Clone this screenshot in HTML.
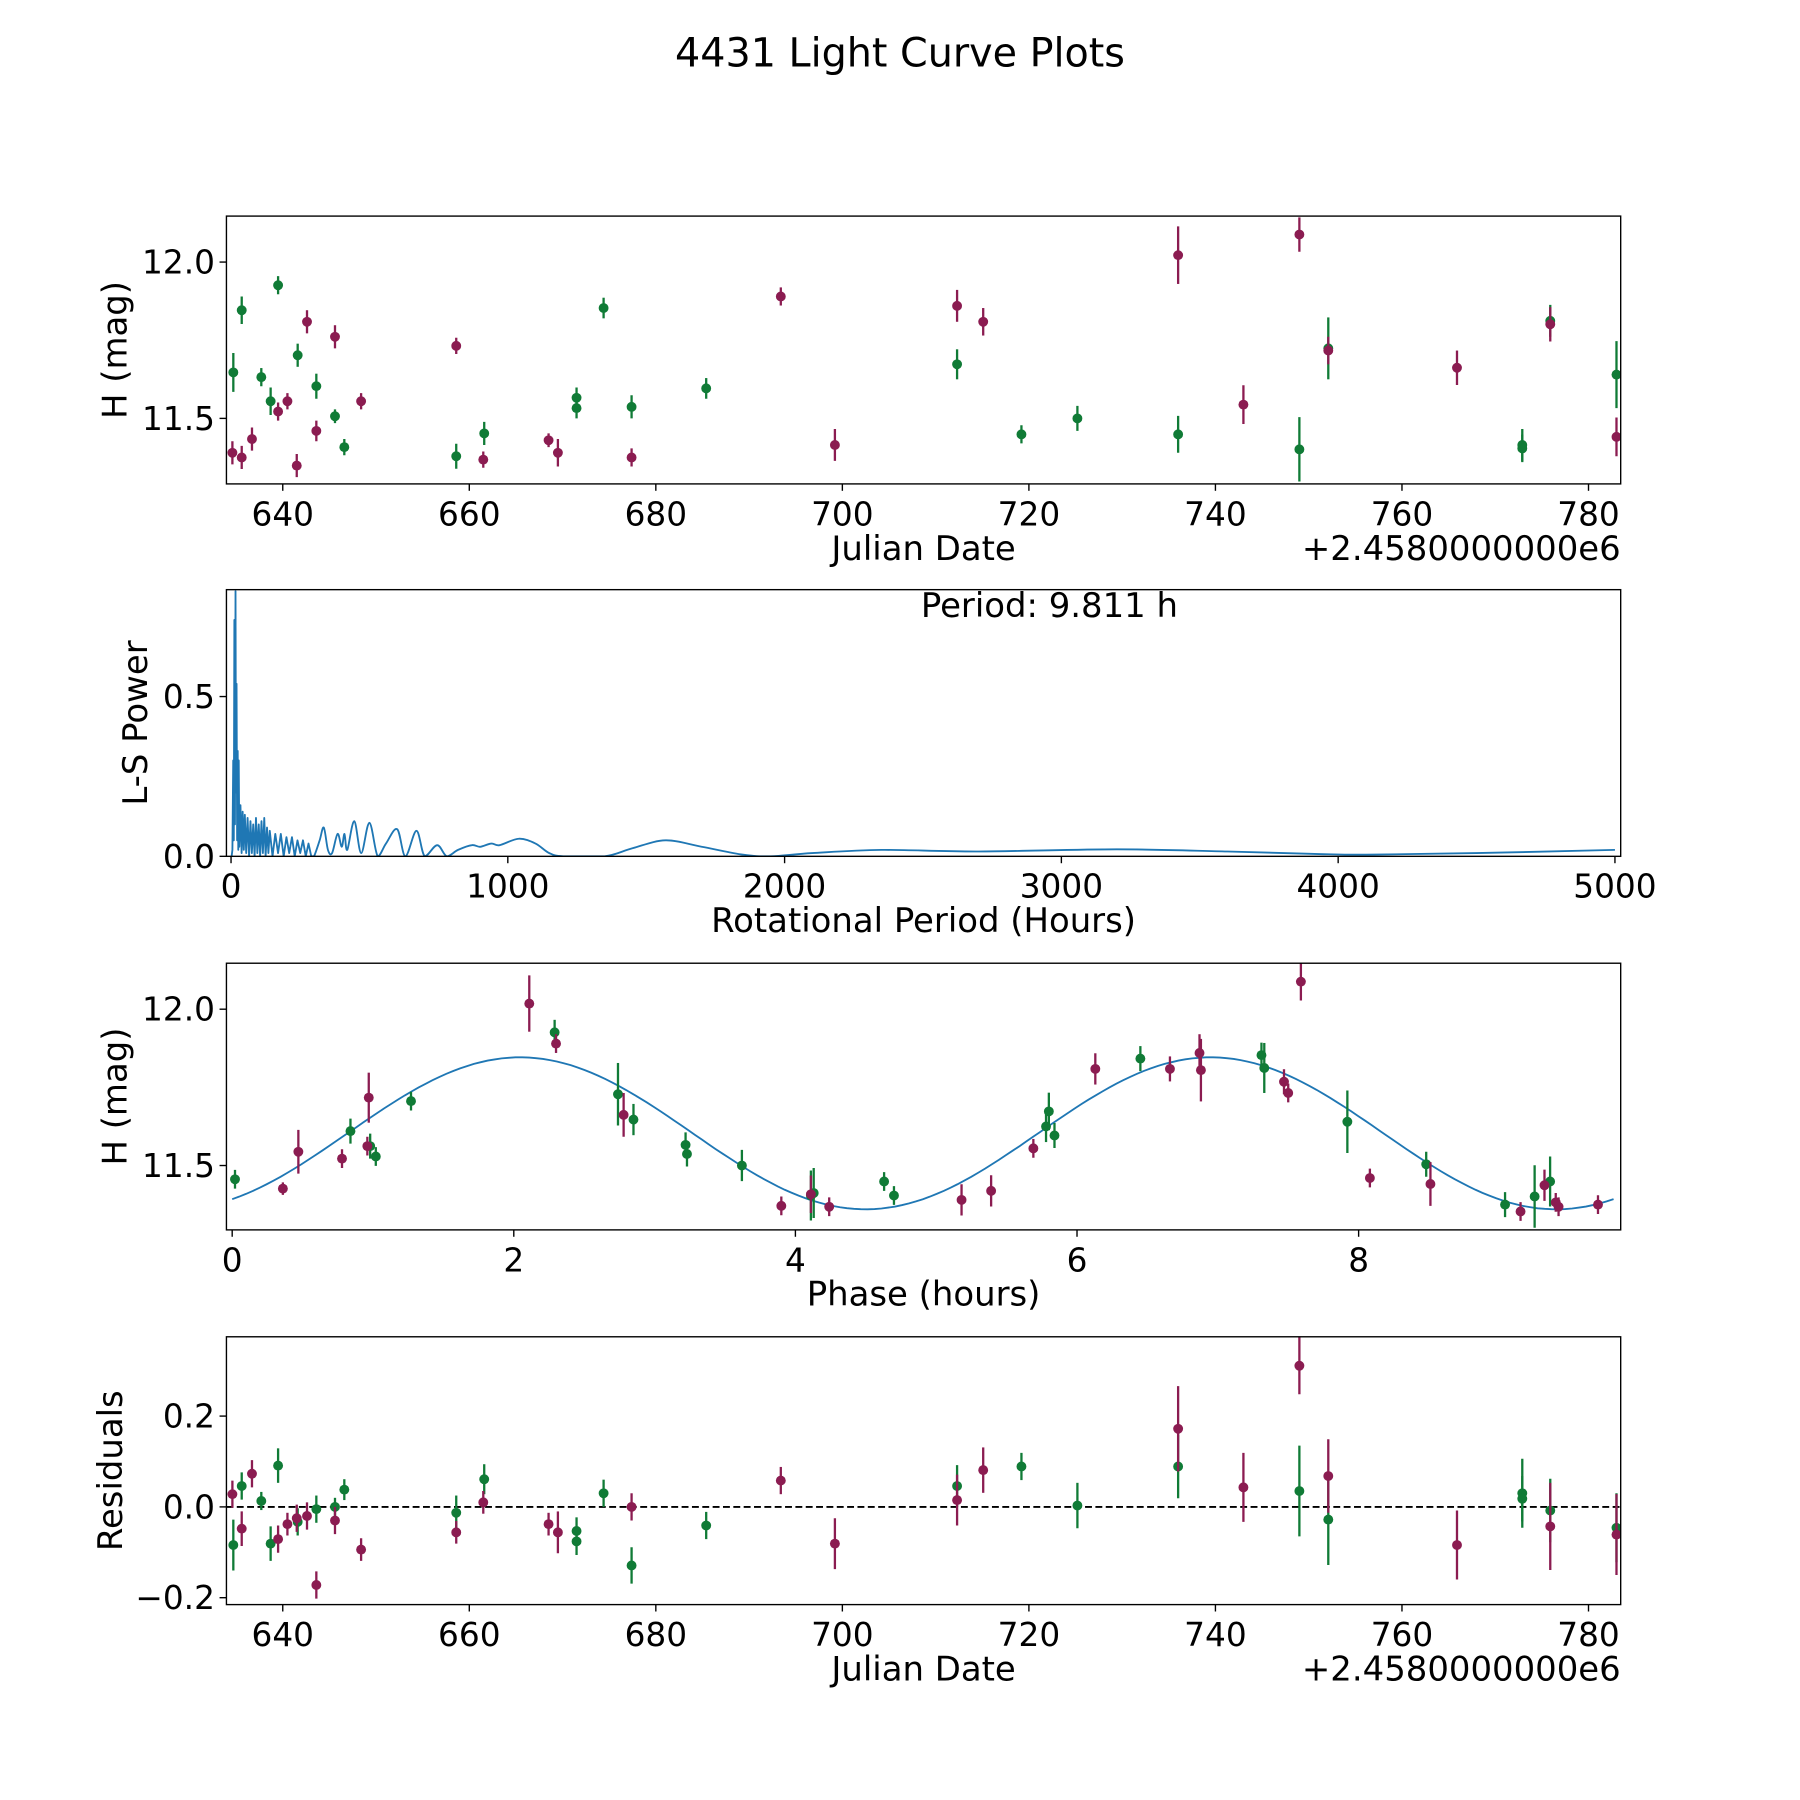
<!DOCTYPE html>
<html><head><meta charset="utf-8"><style>
html,body{margin:0;padding:0;background:#fff}
svg{display:block;font-family:"DejaVu Sans","Liberation Sans",sans-serif}
</style></head><body>
<svg id="fig" xmlns="http://www.w3.org/2000/svg" width="1800" height="1800" viewBox="0 0 1566 1566">
<rect width="1566" height="1566" fill="#fff"/>
<text x="783" y="58" font-size="34.5" text-anchor="middle">4431 Light Curve Plots</text>
</svg>
<script>
// ---- Panel 1 data: date (JD-2458000), H mag, error ----
const gDate=[634.7,635.6,637.7,638.7,639.5,641.6,643.6,645.6,646.6,658.6,661.6,671.5,671.5,674.4,677.4,685.4,712.3,719.2,725.2,736.0,749.0,752.1,772.9,772.9,775.9,783.0];
const gMag=[11.647,11.846,11.632,11.555,11.926,11.702,11.603,11.507,11.408,11.379,11.452,11.566,11.533,11.853,11.537,11.596,11.673,11.449,11.5,11.449,11.401,11.724,11.415,11.404,11.812,11.64];
const gErr=[0.062,0.044,0.029,0.044,0.029,0.037,0.040,0.022,0.026,0.040,0.037,0.033,0.033,0.033,0.037,0.033,0.048,0.029,0.040,0.059,0.103,0.099,0.051,0.044,0.051,0.107];
const mDate=[634.6,635.6,636.7,639.5,640.5,641.5,642.6,643.6,645.6,648.4,658.6,661.5,668.5,669.5,677.4,693.4,699.2,712.3,715.1,736.0,743.0,749.0,752.1,765.9,775.9,783.0];
const mMag=[11.39,11.375,11.434,11.522,11.555,11.349,11.809,11.46,11.761,11.555,11.732,11.368,11.43,11.39,11.375,11.89,11.415,11.86,11.809,12.022,11.544,12.088,11.717,11.662,11.801,11.441];
const mErr=[0.037,0.037,0.037,0.029,0.026,0.037,0.037,0.033,0.037,0.026,0.026,0.026,0.022,0.044,0.029,0.029,0.051,0.051,0.044,0.092,0.062,0.055,0.044,0.055,0.055,0.062];
// ---- Panel 2: periodogram ----
const lsPeriod=[2,5,8,10,12,14,16,18,20,22,24,26,28,30,34,38,42,46,50,55,60,65,70,75,80,85,90,95,100,105,110,115,120,125,130,135,140,150,160,170,180,190,200,210,220,230,240,250,260,270,280,290,300,320,335,350,365,385,400,410,420,445,470,500,530,560,600,630,670,700,745,780,820,870,900,940,970,1040,1100,1150,1200,1350,1450,1570,1700,1850,1950,2100,2350,2700,3200,3600,3900,4100,4500,5000];
const lsPower=[0.0,0.02,0.3,0.05,0.74,0.1,0.83,0.2,0.54,0.05,0.33,0.02,0.3,0.03,0.16,0.01,0.14,0.02,0.13,0.01,0.12,0.0,0.11,0.01,0.1,0.0,0.12,0.01,0.1,0.0,0.11,0.01,0.12,0.0,0.09,0.01,0.08,0.0,0.07,0.01,0.07,0.0,0.06,0.01,0.06,0.0,0.05,0.01,0.05,0.0,0.04,0.0,0.0,0.05,0.09,0.02,0.01,0.07,0.03,0.07,0.02,0.11,0.01,0.105,0.0,0.04,0.085,0.0,0.08,0.0,0.035,0.0,0.02,0.035,0.03,0.04,0.035,0.055,0.04,0.01,0.0,0.0,0.025,0.05,0.03,0.005,0.0,0.01,0.02,0.015,0.022,0.015,0.008,0.005,0.01,0.02];
// ---- Panel 3: phased ----
const gPhase=[0.02,0.84,0.98,1.02,1.27,2.29,2.74,2.85,3.22,3.23,3.62,4.11,4.13,4.63,4.70,5.78,5.80,5.84,6.45,7.31,7.33,7.92,8.48,9.04,9.25,9.36];
const gPMag=[11.456,11.61,11.562,11.529,11.706,11.926,11.728,11.647,11.566,11.537,11.5,11.404,11.412,11.449,11.404,11.625,11.673,11.596,11.842,11.853,11.812,11.64,11.504,11.375,11.401,11.449];
const gPErr=[0.03,0.04,0.04,0.03,0.03,0.04,0.1,0.05,0.04,0.04,0.05,0.08,0.08,0.03,0.03,0.05,0.06,0.04,0.04,0.04,0.08,0.1,0.04,0.04,0.1,0.08];
const mPhase=[0.36,0.47,0.78,0.97,0.96,2.11,2.30,2.78,3.90,4.11,4.24,5.18,5.39,5.69,6.13,6.66,6.87,6.88,7.47,7.50,7.59,8.08,8.51,9.15,9.32,9.40,9.42,9.70];
const mPMag=[11.426,11.544,11.522,11.717,11.562,12.018,11.89,11.662,11.371,11.408,11.368,11.39,11.419,11.555,11.809,11.809,11.86,11.805,11.768,11.732,12.088,11.46,11.441,11.353,11.437,11.382,11.368,11.375];
const mPErr=[0.02,0.07,0.03,0.08,0.03,0.09,0.03,0.07,0.03,0.06,0.03,0.05,0.05,0.03,0.05,0.04,0.06,0.1,0.04,0.03,0.06,0.03,0.07,0.03,0.05,0.03,0.03,0.03];
const fitParams=[11.603,0.243,4.905,0.82]; // mean, amplitude, period(h), phase offset
// ---- Panel 4: residuals ----
const gRes=[-0.084,0.046,0.013,-0.081,0.091,-0.033,-0.005,0.0,0.038,-0.013,0.061,-0.053,-0.076,0.03,-0.129,-0.041,0.046,0.089,0.003,0.089,0.035,-0.028,0.03,0.018,-0.008,-0.046];
const gResErr=[0.056,0.03,0.02,0.038,0.038,0.03,0.03,0.02,0.023,0.038,0.033,0.03,0.03,0.03,0.04,0.03,0.046,0.03,0.05,0.07,0.1,0.1,0.076,0.05,0.07,0.076];
const mRes=[0.028,-0.048,0.073,-0.071,-0.038,-0.025,-0.02,-0.172,-0.03,-0.094,-0.056,0.01,-0.038,-0.056,0.0,0.058,-0.081,0.015,0.081,0.172,0.043,0.311,0.068,-0.084,-0.043,-0.061];
const mResErr=[0.03,0.038,0.03,0.03,0.025,0.03,0.03,0.03,0.03,0.025,0.025,0.025,0.025,0.046,0.03,0.03,0.056,0.056,0.05,0.094,0.076,0.063,0.081,0.076,0.096,0.089];
const dateTicks=[640,660,680,700,720,740,760,780];
const magTicks=[11.5,12.0];
const lsXTicks=[0,1000,2000,3000,4000,5000];
const lsYTicks=[0.0,0.5];
const phaseTicks=[0,2,4,6,8];
const resTicks=[-0.2,0.0,0.2];

const NS='http://www.w3.org/2000/svg';
const svg=document.getElementById('fig');
const GREEN='#107b36',MAG='#8b1c51',BLUE='#1f77b4';
const TF=28.5, LF=29.5;
function el(tag,attrs,parent){const e=document.createElementNS(NS,tag);for(const k in attrs)e.setAttribute(k,attrs[k]);(parent||svg).appendChild(e);return e;}
function lin(d0,d1,r0,r1){return v=>r0+(v-d0)*(r1-r0)/(d1-d0);}
const L=197,R=1410;
function panel(name,top,bot,xs,ys,xt,yt,xfmt,yfmt,xlabel,ylabel,ylx,offset){
  const g=el('g',{});
  
  
  const cid='clip-'+name;
  const cp=el('clipPath',{id:cid},g);el('rect',{x:L,y:top,width:R-L,height:bot-top},cp);
  xt.forEach(t=>{const x=xs(t);el('line',{x1:x,x2:x,y1:bot,y2:bot+6,stroke:'#000','stroke-width':1.2},g);
    const tx=el('text',{x:x,y:bot+36,'font-size':TF,'text-anchor':'middle'},g);tx.textContent=xfmt(t);
    });
  yt.forEach(t=>{const y=ys(t);el('line',{x1:L-6,x2:L,y1:y,y2:y,stroke:'#000','stroke-width':1.2},g);
    const tx=el('text',{x:L-10,y:y+10,'font-size':TF,'text-anchor':'end'},g);tx.textContent=yfmt(t);
    });
  const xl=el('text',{x:(L+R)/2,y:bot+66,'font-size':LF,'text-anchor':'middle'},g);xl.textContent=xlabel;
  
  const yl=el('text',{x:0,y:0,'font-size':LF,'text-anchor':'middle',transform:`translate(${ylx},${(top+bot)/2}) rotate(-90)`},g);yl.textContent=ylabel;
  
  if(offset){const o=el('text',{x:R,y:bot+66,'font-size':LF,'text-anchor':'end'},g);o.textContent=offset;
    }
  const plot=el('g',{'clip-path':`url(#${cid})`},g);
  return {g,plot,frame:()=>el('rect',{x:L,y:top,width:R-L,height:bot-top,fill:'none',stroke:'#000','stroke-width':1.2},g)};
}
function errpts(p,xs,ys,X,Y,E,col,nm){
  X.forEach((v,i)=>{const x=xs(v);
    const ln=el('line',{x1:x,x2:x,y1:ys(Y[i]-E[i]),y2:ys(Y[i]+E[i]),stroke:col,'stroke-width':2},p.plot);
    
    const c=el('circle',{cx:x,cy:ys(Y[i]),r:4.3,fill:col},p.plot);
    });
}
const dx=lin(640,780,246,1382);
{const ys=lin(12,11.5,228,364);
 const p=panel('light-curve-panel',188,421,dx,ys,dateTicks,magTicks,t=>String(t),t=>t.toFixed(1),'Julian Date','H (mag)',110,'+2.4580000000e6');
 errpts(p,dx,ys,gDate,gMag,gErr,GREEN,'green-filter');errpts(p,dx,ys,mDate,mMag,mErr,MAG,'magenta-filter');p.frame();}
{const xs=lin(0,5000,201,1405),ys=lin(0,0.5,745,606);
 const p=panel('periodogram-panel',513,745,xs,ys,lsXTicks,lsYTicks,t=>String(t),t=>t.toFixed(1),'Rotational Period (Hours)','L-S Power',128,null);
 const P=lsPeriod.map((v,i)=>[xs(v),ys(lsPower[i])]);
 let d='M'+P[0][0].toFixed(1)+','+P[0][1].toFixed(1);
 for(let i=1;i<P.length;i++){
   if(lsPeriod[i]<=300){d+=' L'+P[i][0].toFixed(1)+','+P[i][1].toFixed(1);continue;}
   const p0=P[Math.max(i-2,0)],p1=P[i-1],p2=P[i],p3=P[Math.min(i+1,P.length-1)];
   const c1=[p1[0]+(p2[0]-p0[0])/6,p1[1]+(p2[1]-p0[1])/6],c2=[p2[0]-(p3[0]-p1[0])/6,p2[1]-(p3[1]-p1[1])/6];
   c1[1]=Math.min(c1[1],745);c2[1]=Math.min(c2[1],745);
   d+=` C${c1[0].toFixed(1)},${c1[1].toFixed(1)} ${c2[0].toFixed(1)},${c2[1].toFixed(1)} ${p2[0].toFixed(1)},${p2[1].toFixed(1)}`;
 }
 const pl=el('path',{d:d,fill:'none',stroke:BLUE,'stroke-width':1.6,'stroke-linejoin':'round'},p.plot);
 
 p.frame();
 const t=el('text',{x:913,y:537,'font-size':LF,'text-anchor':'middle'},p.g);t.textContent='Period: 9.811 h';
 }
{const xs=lin(0,2,202,447),ys=lin(12,11.5,878,1014);
 const p=panel('phased-curve-panel',838,1070,xs,ys,phaseTicks,magTicks,t=>String(t),t=>t.toFixed(1),'Phase (hours)','H (mag)',110,null);
 let d='';for(let i=0;i<=200;i++){const ph=9.811*i/200;const m=fitParams[0]+fitParams[1]*Math.cos(2*Math.PI*(ph-fitParams[3]-1.225)/fitParams[2]);d+=(i?'L':'M')+xs(ph).toFixed(1)+','+ys(m).toFixed(1)+' ';}
 const pl=el('path',{d:d,fill:'none',stroke:BLUE,'stroke-width':1.6},p.plot);
 
 errpts(p,xs,ys,gPhase,gPMag,gPErr,GREEN,'green-phased');errpts(p,xs,ys,mPhase,mPMag,mPErr,MAG,'magenta-phased');p.frame();}
{const ys=lin(0,0.2,1311,1232);
 const p=panel('residuals-panel',1163,1396,dx,ys,dateTicks,resTicks,t=>String(t),t=>(t<0?'\u2212':'')+Math.abs(t).toFixed(1),'Julian Date','Residuals',106,'+2.4580000000e6');
 const z=el('line',{x1:L,x2:R,y1:ys(0),y2:ys(0),stroke:'#000','stroke-width':1.6,'stroke-dasharray':'6,3'},p.plot);
 
 errpts(p,dx,ys,gDate,gRes,gResErr,GREEN,'green-residual');errpts(p,dx,ys,mDate,mRes,mResErr,MAG,'magenta-residual');p.frame();}
</script>
</body></html>
